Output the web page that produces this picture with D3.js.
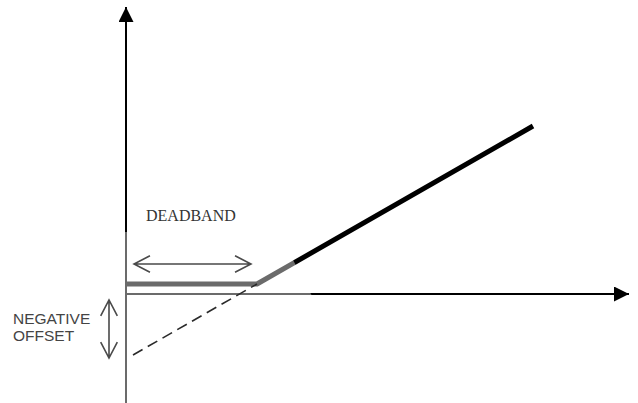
<!DOCTYPE html>
<html>
<head>
<meta charset="utf-8">
<script src="https://cdn.jsdelivr.net/npm/d3@7"></script>
<style>
  html, body { margin: 0; padding: 0; background: #fff; }
  svg { display: block; }
</style>
</head>
<body>
<svg id="chart" width="638" height="403"></svg>
<script>
// input / output in arbitrary units, origin where the axes cross
var deadbandLine = [{x: 0, y: 1}, {x: 13.1, y: 1}];
var responseLine = [{x: 13.1, y: 1}, {x: 40.7, y: 16.8}];
var offsetLine = [{x: 0.7, y: -6.1}, {x: 13.1, y: 1}];
var xAxisExtent = [0, 50.3];
var yAxisExtent = [-11, 28.7];
var deadbandArrow = [{x: 0.8, y: 3}, {x: 12.5, y: 3}];
var offsetArrow = [{x: -1.7, y: -0.6}, {x: -1.7, y: -6.4}];
var labels = ['DEADBAND', 'NEGATIVE', 'OFFSET'];

var svg = d3.select('#chart');

var xScale = d3.scaleLinear().domain([0, 10]).range([126, 226]);
var yScale = d3.scaleLinear().domain([0, 10]).range([294, 194]);

var line = d3.line()
    .x(d => xScale(d.x))
    .y(d => yScale(d.y));

var defs = svg.append('defs');
defs.append('marker')
    .attr('id', 'solid')
    .attr('viewBox', '0 0 10 10')
    .attr('refX', 10).attr('refY', 5)
    .attr('markerWidth', 15).attr('markerHeight', 15)
    .attr('markerUnits', 'userSpaceOnUse')
    .attr('orient', 'auto')
  .append('path')
    .attr('d', 'M0,0L10,5L0,10Z')
    .attr('fill', '#000');

var g = svg.append('g');

// axes
g.append('path')
    .attr('d', line([{x: xAxisExtent[0], y: 0}, {x: xAxisExtent[1], y: 0}]))
    .attr('stroke', '#000').attr('stroke-width', 2)
    .attr('marker-end', 'url(#solid)');
g.append('path')
    .attr('d', line([{x: 0, y: yAxisExtent[0]}, {x: 0, y: yAxisExtent[1]}]))
    .attr('stroke', '#000').attr('stroke-width', 2)
    .attr('marker-end', 'url(#solid)');

// deadband and response
g.append('path')
    .attr('d', line(deadbandLine.concat(responseLine.slice(1))))
    .attr('fill', 'none')
    .attr('stroke', '#000')
    .attr('stroke-width', 5)
    .attr('stroke-linejoin', 'round');

// faded region over the lower left part of the picture
svg.append('path')
    .attr('d', 'M118,232L276,232L292,258L312,296L312,403L118,403Z')
    .attr('fill', '#fff')
    .attr('opacity', 0.42);

// dashed offset line
svg.append('path')
    .attr('d', line(offsetLine))
    .attr('fill', 'none')
    .attr('stroke', '#2a2a2a')
    .attr('stroke-width', 1.6)
    .attr('stroke-dasharray', '11,6');

// open double headed arrows
function doubleArrow(pts) {
  var a = [xScale(pts[0].x), yScale(pts[0].y)];
  var b = [xScale(pts[1].x), yScale(pts[1].y)];
  var ang = Math.atan2(b[1] - a[1], b[0] - a[0]);
  var len = 18, spread = 0.48;
  function head(p, dir) {
    var p1 = [p[0] + len * Math.cos(dir + spread), p[1] + len * Math.sin(dir + spread)];
    var p2 = [p[0] + len * Math.cos(dir - spread), p[1] + len * Math.sin(dir - spread)];
    return 'M' + p1 + 'L' + p + 'L' + p2;
  }
  svg.append('path')
      .attr('d', 'M' + a + 'L' + b + head(a, ang) + head(b, ang + Math.PI))
      .attr('fill', 'none')
      .attr('stroke', '#4a4a4a')
      .attr('stroke-width', 1.6);
}
doubleArrow(deadbandArrow);
doubleArrow(offsetArrow);

svg.append('text')
    .attr('x', 146).attr('y', 221)
    .attr('font-family', '"Liberation Serif", "Times New Roman", serif')
    .attr('font-size', 16)
    .attr('fill', '#333')
    .text(labels[0]);

svg.selectAll('text.offset')
    .data(labels.slice(1))
    .enter()
    .append('text')
    .attr('class', 'offset')
    .attr('x', 13)
    .attr('y', (d, i) => 324 + i * 17)
    .attr('font-family', '"Liberation Sans", Arial, sans-serif')
    .attr('font-size', 15.5)
    .attr('fill', '#444')
    .text(d => d);
</script>
</body>
</html>
